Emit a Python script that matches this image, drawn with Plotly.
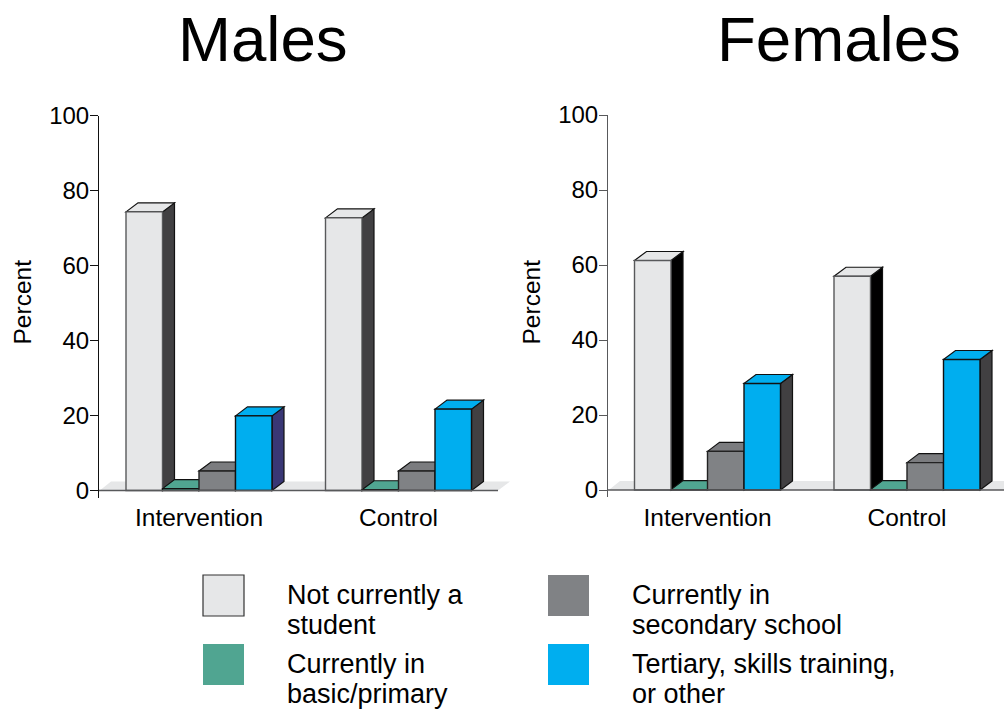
import plotly.graph_objects as go

W, H = 1004, 709
FONT = "Liberation Sans"
INK = "#000000"

groups = ["Intervention", "Control"]
series = ["Not currently a student", "Currently in basic/primary",
          "Currently in secondary school", "Tertiary, skills training, or other"]
males_not_student = [74.3, 72.7]
males_basic = [0.5, 0.2]
males_secondary = [5.2, 5.2]
males_tertiary = [19.9, 21.7]
females_not_student = [61.2, 57.0]
females_basic = [0.1, 0.1]
females_secondary = [10.3, 7.3]
females_tertiary = [28.4, 34.8]
y_ticks = [0, 20, 40, 60, 80, 100]

colors = ["#e6e7e8", "#50a591", "#808285", "#00aeef"]
top_colors = ["#e6e7e8", "#50a591", "#7b7c7f", "#00aeef"]
edges = ["#58595b", "#111111", "#222222", "#111111"]
side_dark = "#414042"

BAR_PX = 36.5
PX_PER_UNIT = 3.75
DX = 12 / BAR_PX
DY = 9 / PX_PER_UNIT

panels = [
    dict(xa="x", ya="y", title="Males", title_x=263, left=99, right=515, base_end=498,
         y0=490.5, starts=[126, 325.5], axis_color="#111111", percent_x=22,
         vals=[males_not_student, males_basic, males_secondary, males_tertiary],
         sides=[[side_dark, "#111111", side_dark, "#393775"],
                [side_dark, side_dark, side_dark, side_dark]]),
    dict(xa="x2", ya="y2", title="Females", title_x=838.5, left=608, right=1004, base_end=1004,
         y0=490.0, starts=[634.5, 834], axis_color="#58595b", percent_x=531,
         vals=[females_not_student, females_basic, females_secondary, females_tertiary],
         sides=[["#000000", "#111111", side_dark, side_dark],
                ["#000000", "#111111", side_dark, side_dark]]),
]

fig = go.Figure()
shapes = []
annotations = []


def poly(points, xref, yref, fill, line="#111111", width=1.2):
    path = "M" + " L".join(f"{x:.4f},{y:.4f}" for x, y in points) + " Z"
    return dict(type="path", path=path, xref=xref, yref=yref, fillcolor=fill, layer="below",
                line=dict(color=line, width=width))


layout_axes = {}
for n, p in enumerate(panels):
    xa, ya = p["xa"], p["ya"]
    xkey = "xaxis" if n == 0 else "xaxis2"
    ykey = "yaxis" if n == 0 else "yaxis2"
    bottom_px = p["y0"] + 7
    top_px = p["y0"] - 100 * PX_PER_UNIT
    span = (p["right"] - p["left"]) / BAR_PX
    starts = [(s - p["left"]) / BAR_PX for s in p["starts"]]
    end = (p["base_end"] - p["left"]) / BAR_PX

    # floor
    shapes.append(dict(type="path",
                       path=f"M0.02,0 L{DX:.4f},{DY:.4f} L{end + DX:.4f},{DY:.4f} L{end:.4f},0 Z",
                       xref=xa, yref=ya, fillcolor="#e6e7e8", layer="below", line=dict(width=0)))

    for g, st in enumerate(starts):
        for i, vals in enumerate(p["vals"]):
            x0, x1, v = st + i, st + i + 1, vals[g]
            shapes.append(poly([(x1, 0), (x1 + DX, DY), (x1 + DX, v + DY), (x1, v)], xa, ya, p["sides"][g][i]))
            shapes.append(poly([(x0, v), (x0 + DX, v + DY), (x1 + DX, v + DY), (x1, v)], xa, ya, top_colors[i]))

    for i, vals in enumerate(p["vals"]):
        fig.add_trace(go.Bar(
            x=[st + i + 0.5 for st in starts], y=vals, width=1, name=series[i], xaxis=xa, yaxis=ya,
            showlegend=False, marker=dict(color=colors[i], line=dict(color=edges[i], width=1.4)),
            customdata=groups, hovertemplate="%{customdata}: %{y}%<extra>" + series[i] + "</extra>"))

    # baseline
    shapes.append(dict(type="line", x0=0, x1=end, y0=0, y1=0, xref=xa, yref=ya, layer="above",
                       line=dict(color="#58595b", width=1.5)))

    layout_axes[xkey] = dict(domain=[p["left"] / W, p["right"] / W], range=[0, span], anchor=ya,
                             automargin=False, ticklabelstandoff=3,
                             tickmode="array", tickvals=[st + 2 for st in starts], ticktext=groups,
                             ticks="", showgrid=False, zeroline=False, showline=False,
                             tickfont=dict(family=FONT, size=24.5, color=INK))
    layout_axes[ykey] = dict(domain=[1 - bottom_px / H, 1 - top_px / H], range=[-7 / PX_PER_UNIT, 100],
                             anchor=xa, automargin=False, ticklabelstandoff=-4,
                             tickmode="array", tickvals=y_ticks, ticks="outside", ticklen=8,
                             tickwidth=1, tickcolor=p["axis_color"], showline=True,
                             linecolor=p["axis_color"], linewidth=1, showgrid=False, zeroline=False,
                             tickfont=dict(family=FONT, size=24, color=INK))
    annotations.append(dict(text="Percent", x=p["percent_x"] / W, y=1 - 302.5 / H, xref="paper", yref="paper",
                            xanchor="center", yanchor="middle", showarrow=False, textangle=-90,
                            font=dict(family=FONT, size=24.5, color=INK)))
    annotations.append(dict(text=p["title"], x=p["title_x"] / W, y=1 - 38 / H, xref="paper", yref="paper",
                            xanchor="center", yanchor="middle", showarrow=False,
                            font=dict(family=FONT, size=63.6, color=INK)))

legend_items = [
    (203, 575, 0, ["Not currently a", "student"], 285),
    (203, 644, 1, ["Currently in", "basic/primary"], 285),
    (548, 575, 2, ["Currently in", "secondary school"], 630),
    (548, 644, 3, ["Tertiary, skills training,", "or other"], 630),
]
for sx, sy, idx, lines, tx in legend_items:
    shapes.append(dict(type="rect", xref="paper", yref="paper", x0=sx / W, x1=(sx + 41) / W,
                       y0=1 - (sy + 41) / H, y1=1 - sy / H, fillcolor=colors[idx],
                       line=dict(color="#333333", width=1.2) if idx == 0 else dict(width=0)))
    for k, line in enumerate(lines):
        annotations.append(dict(text=line, x=tx / W, y=1 - (sy + 20 + 30 * k) / H, xref="paper", yref="paper",
                                xanchor="left", yanchor="middle", showarrow=False,
                                font=dict(family=FONT, size=27, color=INK)))

fig.update_layout(width=W, height=H, margin=dict(l=0, r=0, t=0, b=0), autosize=False,
                  paper_bgcolor="white", plot_bgcolor="rgba(0,0,0,0)", barmode="overlay",
                  shapes=shapes, annotations=annotations, showlegend=False, **layout_axes)
fig.write_html("out.html", config={"displayModeBar": False},
               post_script="document.body.style.margin='0';document.documentElement.style.overflow='hidden';")
